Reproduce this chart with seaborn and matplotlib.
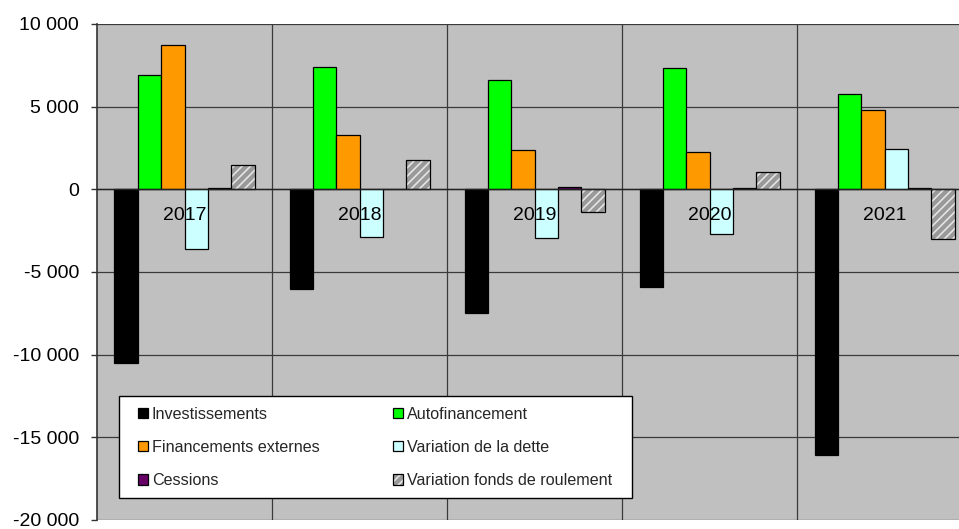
import matplotlib
matplotlib.use("Agg")
import matplotlib.pyplot as plt
import matplotlib.patches as mpatches
from matplotlib.ticker import FixedLocator, FuncFormatter
import numpy as np
import pandas as pd
import seaborn as sns

# Flux annuels (en milliers d'euros)
years = ["2017", "2018", "2019", "2020", "2021"]
investissements = [-10500, -6050, -7500, -5900, -16050]
autofinancement = [6900, 7400, 6600, 7350, 5750]
financements_externes = [8700, 3300, 2400, 2250, 4800]
variation_dette = [-3600, -2900, -2950, -2700, 2450]
cessions = [80, 0, 120, 110, 110]
variation_fonds = [1500, 1750, -1400, 1050, -3000]

series_names = [
    "Investissements",
    "Autofinancement",
    "Financements externes",
    "Variation de la dette",
    "Cessions",
    "Variation fonds de roulement",
]
series_values = [
    investissements,
    autofinancement,
    financements_externes,
    variation_dette,
    cessions,
    variation_fonds,
]
y_ticks = [-20000, -15000, -10000, -5000, 0, 5000, 10000]

colors = ["#000000", "#00ff00", "#ff9900", "#ccffff", "#660066", "#999999"]

df = pd.DataFrame(
    [
        {"Année": yr, "Poste": name, "Montant": v}
        for name, vals in zip(series_names, series_values)
        for yr, v in zip(years, vals)
    ]
)

sns.set_theme(style="white")
plt.rcParams["font.family"] = ["Liberation Sans", "DejaVu Sans"]
plt.rcParams["hatch.linewidth"] = 1.2

fig = plt.figure(figsize=(9.59, 5.29), dpi=100)
fig.patch.set_facecolor("white")
# the plot area runs slightly past the right border of the figure
ax = fig.add_axes([97 / 959, 9 / 529, 875 / 959, 496 / 529])
ax.set_facecolor("#c0c0c0")

sns.barplot(
    data=df,
    x="Année",
    y="Montant",
    hue="Poste",
    hue_order=series_names,
    order=years,
    palette=colors,
    width=0.8,
    edgecolor="black",
    linewidth=0.9,
    saturation=1,
    legend=False,
    ax=ax,
)

# hatched series: light stripes on grey with a black outline drawn on top
hatch_container = ax.containers[-1]
for p in hatch_container.patches:
    p.set_hatch("////")
    p.set_edgecolor("#e4e4e4")
    p.set_linewidth(0)
    ax.add_patch(
        mpatches.Rectangle(
            p.get_xy(), p.get_width(), p.get_height(),
            fill=False, edgecolor="black", linewidth=0.9, zorder=p.get_zorder() + 0.1,
        )
    )

ax.set_ylim(-20000, 10000)
ax.set_xlim(-0.5, len(years) - 0.5)
ax.set_xlabel("")
ax.set_ylabel("")

ax.yaxis.set_major_locator(FixedLocator(y_ticks))
ax.yaxis.set_major_formatter(FuncFormatter(lambda v, _: f"{int(v):,}".replace(",", " ")))
ax.tick_params(axis="y", which="major", left=True, length=4.3, width=1, color="#333333",
               pad=8.6, labelsize=14, labelcolor="black")

ax.set_xticks([])
ax.set_xticks(np.arange(len(years) - 1) + 0.5, minor=True)
ax.tick_params(axis="x", which="minor", length=0)

ax.set_axisbelow(True)
ax.grid(axis="y", which="major", color="#3a3a3a", linewidth=0.9)
ax.grid(axis="x", which="minor", color="#3a3a3a", linewidth=0.9)

for side in ["top", "right"]:
    ax.spines[side].set_visible(False)
ax.spines["left"].set_color("#333333")
ax.spines["left"].set_linewidth(1.2)
ax.spines["bottom"].set_position(("data", 0))
ax.spines["bottom"].set_color("#222222")
ax.spines["bottom"].set_linewidth(1.0)
ax.spines["bottom"].set_zorder(3)

# year labels sit just under the zero axis, above the bars
for i, yr in enumerate(years):
    ax.annotate(yr, xy=(i, 0), xytext=(0, -18), textcoords="offset pixels",
                ha="center", va="top", fontsize=14, color="black", zorder=6)

# legend: white box with a black frame, two columns
box = mpatches.Rectangle((22 / 875, 22 / 496), 513 / 875, 102 / 496,
                         transform=ax.transAxes, facecolor="white",
                         edgecolor="black", linewidth=1.0, zorder=5)
ax.add_patch(box)

handles = []
for name, c in zip(series_names, colors):
    if name == "Variation fonds de roulement":
        h = (
            mpatches.Patch(facecolor=c, edgecolor="#e4e4e4", hatch="////", linewidth=0),
            mpatches.Patch(fill=False, edgecolor="black", linewidth=0.9),
        )
    else:
        h = mpatches.Patch(facecolor=c, edgecolor="black", linewidth=0.9)
    handles.append(h)

order = [0, 2, 4, 1, 3, 5]
leg = ax.legend(
    [handles[k] for k in order],
    [series_names[k] for k in order],
    ncol=2,
    loc="upper left",
    bbox_to_anchor=(41 / 875, 113 / 496, 474 / 875, 0.0),
    mode="expand",
    frameon=False,
    borderpad=0,
    borderaxespad=0,
    handlelength=0.6,
    handleheight=0.6,
    handletextpad=0.25,
    labelspacing=1.12,
    fontsize=11.6,
)
leg.set_zorder(6)

fig.savefig("out.png", dpi=100, facecolor="white")
